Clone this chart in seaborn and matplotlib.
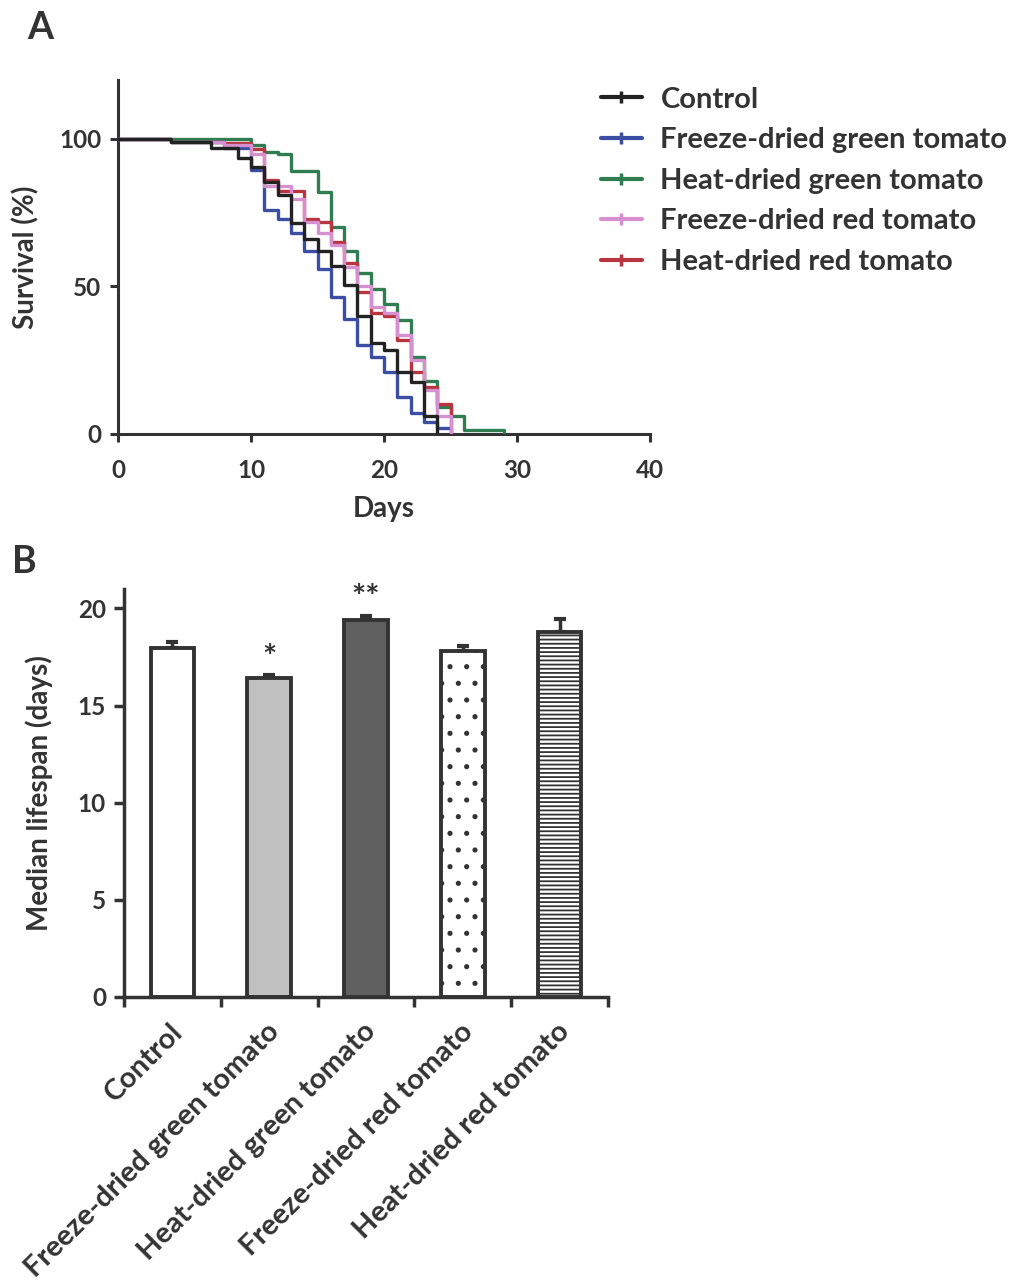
import numpy as np
import pandas as pd
import matplotlib
matplotlib.use('Agg')
import matplotlib.pyplot as plt
from matplotlib import font_manager as fm
from matplotlib.lines import Line2D
from matplotlib.transforms import ScaledTranslation
import seaborn as sns

# survival curves: step days and survival (%) after each step
groups = ['Control', 'Freeze-dried green tomato', 'Heat-dried green tomato',
          'Freeze-dried red tomato', 'Heat-dried red tomato']

control_days = [0, 4, 7, 9, 10, 11, 12, 13, 14, 15, 16, 17, 18, 19, 20, 21, 22, 23, 24]
control_surv = [100, 99, 97, 93.5, 90.5, 85.5, 81, 71.5, 66, 62, 57, 50.5, 40, 31, 28.5, 21, 17.5, 6, 0]

fd_green_days = [0, 4, 8, 10, 11, 12, 13, 14, 15, 16, 17, 18, 19, 20, 21, 22, 23, 24, 25]
fd_green_surv = [100, 99, 97, 89.5, 76, 73, 68, 62, 56, 46.5, 39, 30, 26, 21, 12.5, 7, 4, 2, 0]

hd_green_days = [0, 10, 11, 12, 13, 15, 16, 17, 18, 19, 20, 21, 22, 23, 24, 25, 26, 29]
hd_green_surv = [100, 98, 95.5, 95, 89, 82, 70, 62, 54.5, 49, 44, 38.5, 26, 18, 9, 6, 1.5, 0]

fd_red_days = [0, 4, 8, 10, 11, 13, 14, 15, 16, 17, 18, 19, 20, 21, 22, 23, 24, 25]
fd_red_surv = [100, 99, 98, 95, 84, 79.5, 72, 68, 64, 56.5, 50, 43, 41, 33.5, 25, 15, 6, 0]

hd_red_days = [0, 4, 8, 10, 11, 12, 14, 15, 16, 17, 18, 19, 20, 21, 22, 23, 24, 25]
hd_red_surv = [100, 99, 98.5, 96.5, 86, 82.5, 73, 72, 65, 58, 48, 41, 40, 32, 21, 16, 10, 0]

# median lifespan bars
median_days = [17.95, 16.4, 19.4, 17.8, 18.8]
median_err = [0.3, 0.15, 0.2, 0.25, 0.65]
signif = ['', '*', '**', '', '']

line_colors = ['#222222', '#3b4ea3', '#2f7d50', '#d690d0', '#b8343e']
bar_colors = ['white', '#c0c0c0', '#606060', 'white', 'white']
bar_hatch = [None, None, None, '.', '----']

ink = '#333333'

# pick a family that really has a bold face installed
bold_families = {f.name for f in fm.fontManager.ttflist
                 if (f.weight if isinstance(f.weight, int) else 400) >= 600
                 or str(f.weight) in ('bold', 'heavy', 'black', 'semibold', 'demibold')}
family = 'DejaVu Sans'
for cand in ['Lato', 'Open Sans', 'Noto Sans', 'Roboto', 'Liberation Sans']:
    if cand in bold_families:
        family = cand
        break

sns.set_style('ticks')
plt.rcParams['font.family'] = [family, 'DejaVu Sans']
plt.rcParams['font.weight'] = 'bold'
plt.rcParams['text.color'] = ink
plt.rcParams['axes.labelcolor'] = ink
plt.rcParams['xtick.color'] = ink
plt.rcParams['ytick.color'] = ink
plt.rcParams['axes.edgecolor'] = ink
plt.rcParams['hatch.linewidth'] = 1.3

fig = plt.figure(figsize=(10.17, 12.81), dpi=100)

# ---------------- panel A ----------------
ax1 = fig.add_axes([118 / 1017, 1 - 434 / 1281, 532 / 1017, 354 / 1281])
curves = [(control_days, control_surv), (fd_green_days, fd_green_surv),
          (hd_green_days, hd_green_surv), (fd_red_days, fd_red_surv),
          (hd_red_days, hd_red_surv)]
draw_order = [2, 1, 4, 3, 0]
for i in draw_order:
    d, s = curves[i]
    df = pd.DataFrame({'day': d, 'surv': s})
    sns.lineplot(data=df, x='day', y='surv', ax=ax1, color=line_colors[i],
                 drawstyle='steps-post', linewidth=2.4, estimator=None,
                 zorder=3 + draw_order.index(i))

ax1.set_xlim(0, 40)
ax1.set_ylim(0, 120)
ax1.set_xticks([0, 10, 20, 30, 40])
ax1.set_yticks([0, 50, 100])
sns.despine(ax=ax1)
for sp in ['left', 'bottom']:
    ax1.spines[sp].set_linewidth(2.2)
ax1.tick_params(axis='both', width=2.2, length=6, labelsize=17.5)
ax1.tick_params(axis='x', pad=12)
ax1.tick_params(axis='y', pad=6)
ax1.set_xlabel('Days', fontsize=20, fontweight='bold', labelpad=10)
ax1.set_ylabel('Survival (%)', fontsize=20, fontweight='bold', labelpad=14)

handles = [Line2D([0], [0], color=c, linewidth=3, marker='|', markersize=9,
                  markeredgewidth=2.5) for c in line_colors]
fig.legend(handles, groups, loc='upper left', bbox_to_anchor=(589 / 1017, 1 - 75 / 1281),
           frameon=False, handlelength=1.4, handletextpad=0.65,
           labelspacing=0.5, borderaxespad=0, prop={'weight': 'bold', 'size': 21})

fig.text(27 / 1017, 1 - 39 / 1281, 'A', fontsize=27, fontweight='bold', color=ink)

# ---------------- panel B ----------------
ax2 = fig.add_axes([124 / 1017, 1 - 997 / 1281, 484 / 1017, 408 / 1281])
bdf = pd.DataFrame({'group': groups, 'median': median_days})
sns.barplot(data=bdf, x='group', y='median', ax=ax2, width=0.45,
            color='white', edgecolor=ink, linewidth=2.8, zorder=2)
for p, fc, h in zip(ax2.patches, bar_colors, bar_hatch):
    p.set_facecolor(fc)
    if h:
        p.set_hatch(h)
ax2.errorbar(range(len(groups)), median_days, yerr=[np.zeros(len(groups)), median_err],
             fmt='none', ecolor=ink, elinewidth=2.5, capsize=4.5, capthick=3, zorder=1)
for i, s in enumerate(signif):
    if s:
        ax2.text(i, median_days[i] + median_err[i] + 0.15, s, ha='center', va='bottom',
                 fontsize=24, fontweight='bold', color=ink, clip_on=False)

ax2.set_xlim(-0.5, 4.5)
ax2.set_ylim(0, 21)
ax2.set_yticks([0, 5, 10, 15, 20])
ax2.set_xticks(range(len(groups)))
ax2.set_xticklabels(groups, rotation=45, ha='right', va='center', rotation_mode='anchor')
ax2.set_xticks(np.arange(-0.5, 5, 1), minor=True)
ax2.tick_params(axis='x', which='major', length=0, labelsize=21, pad=22)
ax2.tick_params(axis='x', which='minor', length=7, width=2.5)
ax2.tick_params(axis='y', width=2.5, length=7, labelsize=17.5, pad=6)
for lbl in ax2.get_xticklabels():
    lbl.set_transform(lbl.get_transform() + ScaledTranslation(6 / 100, 0, fig.dpi_scale_trans))
sns.despine(ax=ax2)
for sp in ['left', 'bottom']:
    ax2.spines[sp].set_linewidth(2.5)
ax2.set_xlabel('')
ax2.set_ylabel('Median lifespan (days)', fontsize=20, fontweight='bold', labelpad=18)

fig.text(12 / 1017, 1 - 573 / 1281, 'B', fontsize=27, fontweight='bold', color=ink)

fig.savefig('out.png', dpi=100)
